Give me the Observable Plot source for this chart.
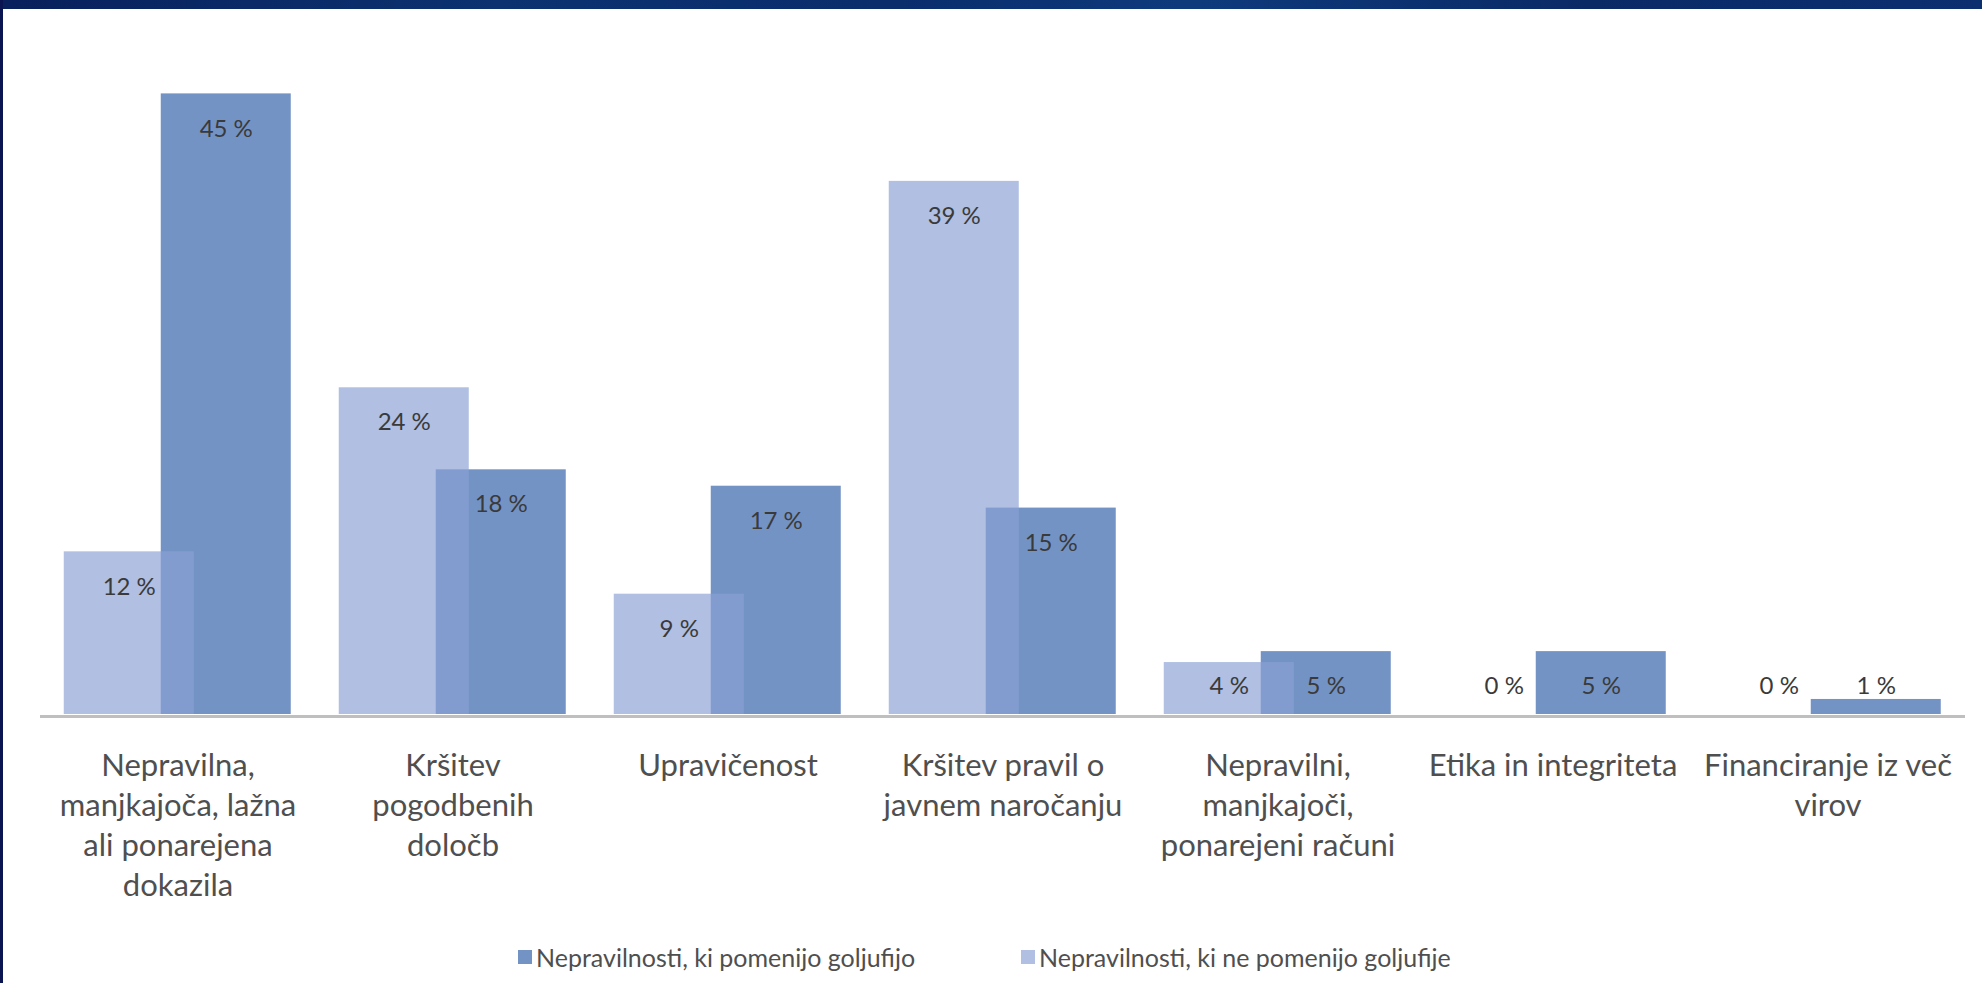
<!DOCTYPE html>
<html>
<head>
<meta charset="utf-8">
<script src="https://cdn.jsdelivr.net/npm/d3@7"></script>
<script src="https://cdn.jsdelivr.net/npm/@observablehq/plot@0.6"></script>
<style>
  html, body { margin: 0; padding: 0; }
  body {
    width: 1982px; height: 983px; overflow: hidden; position: relative;
    background: linear-gradient(90deg, #08205c 0%, #0c3270 25%, #0a2d6c 45%, #0e3a7c 60%, #0a2a66 80%, #0c2f70 100%);
  }
  #leftband { position: absolute; left: 0; top: 0; width: 3px; height: 983px; background: #0a1450; }
  #panel { position: absolute; left: 3px; top: 9px; width: 1979px; height: 974px; background: #ffffff; font-family: Lato, "Open Sans", sans-serif; }
  #chart { position: absolute; left: 0; top: 0; }
  #legend { position: absolute; top: 933px; left: 0; width: 1979px; height: 30px; }
  .item { position: absolute; top: 0; display: flex; align-items: center; height: 30px; font-size: 25px; color: #4f4f4f; white-space: nowrap; }
  .sw { width: 14px; height: 14px; margin-right: 4px; }
</style>
</head>
<body>
<div id="leftband"></div>
<div id="panel">
  <div id="chart"></div>
  <div id="legend"></div>
</div>
<script>
const categories = [
  "Nepravilna,\nmanjkajoča, lažna\nali ponarejena\ndokazila",
  "Kršitev\npogodbenih\ndoločb",
  "Upravičenost",
  "Kršitev pravil o\njavnem naročanju",
  "Nepravilni,\nmanjkajoči,\nponarejeni računi",
  "Etika in integriteta",
  "Financiranje iz več\nvirov"
];
// Nepravilnosti, ki pomenijo goljufijo (dark)
const fraudValues = [45.4, 17.9, 16.7, 15.1, 4.6, 4.6, 1.1];
// Nepravilnosti, ki ne pomenijo goljufije (light)
const nonFraudValues = [11.9, 23.9, 8.8, 39.0, 3.8, 0, 0];
const seriesNames = ["Nepravilnosti, ki pomenijo goljufijo", "Nepravilnosti, ki ne pomenijo goljufije"];
const seriesKeys = ["da", "ne"];
const seriesColors = ["#7493c5", "#8ba1d4"];

const rows = [];
categories.forEach((c, i) => {
  rows.push({cat: c, key: "da", value: fraudValues[i]});
  rows.push({cat: c, key: "ne", value: nonFraudValues[i]});
});
const fraudRows = rows.filter(d => d.key === "da");
const nonRows = rows.filter(d => d.key === "ne");

const labelFloor = 4.61;

const chart = Plot.plot({
  width: 1979,
  height: 900,
  marginLeft: 34.75,
  marginRight: 15.75,
  marginTop: 21.5,
  marginBottom: 195,
  style: {fontFamily: "Lato, 'Open Sans', sans-serif", background: "transparent", overflow: "visible"},
  fx: {domain: categories, padding: 0, axis: null},
  x: {domain: ["ne", "da"], paddingInner: 0, paddingOuter: 0.4056, axis: null},
  y: {domain: [0, 50], axis: null},
  marks: [
    Plot.barY(fraudRows, {fx: "cat", x: "key", y: "value", fill: seriesColors[0], insetLeft: -16.5, insetRight: -16.5}),
    Plot.barY(nonRows, {fx: "cat", x: "key", y: "value", fill: seriesColors[1], fillOpacity: 0.68, insetLeft: -16.5, insetRight: -16.5}),
    Plot.ruleY([0], {stroke: "#bfbfbf", strokeWidth: 3, dy: 2}),
    Plot.text(rows, {fx: "cat", x: "key", y: d => Math.max(d.value, labelFloor), dy: 35,
      text: d => Math.round(d.value) + " %", fill: "#3a3a3a", fontSize: 24, lineAnchor: "middle"}),
    Plot.axisFx({anchor: "bottom", tickSize: 0, tickPadding: 33, fontSize: 31, lineHeight: 1.29,
      fill: "#4f4f4f", label: null, tickFormat: d => d})
  ]
});
document.getElementById("chart").appendChild(chart);

const legend = document.getElementById("legend");
const legendX = [515, 1018];
seriesNames.forEach((name, i) => {
  const item = document.createElement("div");
  item.className = "item";
  item.style.left = legendX[i] + "px";
  const sw = document.createElement("div");
  sw.className = "sw";
  sw.style.background = i === 0 ? seriesColors[0] : "#b0bfe2";
  const t = document.createElement("span");
  t.textContent = name;
  item.appendChild(sw);
  item.appendChild(t);
  legend.appendChild(item);
});
</script>
</body>
</html>
